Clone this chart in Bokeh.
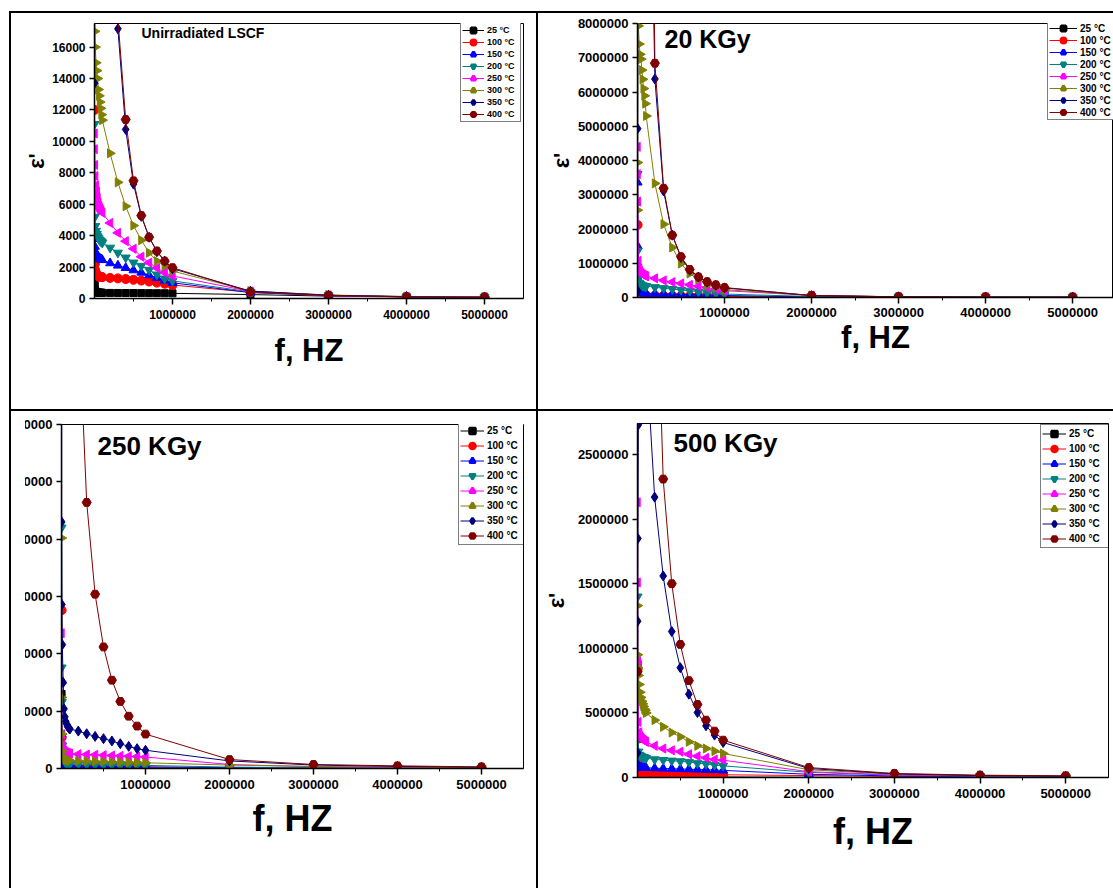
import math
from bokeh.plotting import figure
from bokeh.models import (FixedTicker, BasicTickFormatter, Label, Legend, LegendItem,
                          Spacer, ColumnDataSource, Range1d)
from bokeh.layouts import row, column
from bokeh.embed import file_html
from bokeh.resources import INLINE

# ---------------- data ----------------
FREQ_HZ = [1e3, 2e3, 5e3, 1e4, 2e4, 3e4, 4e4, 5e4, 6e4, 7e4, 8e4, 9e4,
           1e5, 2e5, 3e5, 4e5, 5e5, 6e5, 7e5, 8e5, 9e5, 1e6, 2e6, 3e6, 4e6, 5e6]
TEMPS = ["25 °C", "100 °C", "150 °C", "200 °C", "250 °C", "300 °C", "350 °C", "400 °C"]
X_TICKS = [1e6, 2e6, 3e6, 4e6, 5e6]
X_MINOR = [5e5, 1.5e6, 2.5e6, 3.5e6, 4.5e6]

# Unirradiated LSCF
UNIRR_25 = [1100, 800, 600, 480, 420, 400, 390, 380, 375, 370, 366, 362, 360, 355, 352, 350, 348, 345, 342, 340, 336, 330, 250, 150, 100, 80]
UNIRR_100 = [12000, 4000, 2200, 1800, 1600, 1500, 1450, 1420, 1400, 1390, 1380, 1370, 1360, 1310, 1280, 1240, 1190, 1140, 1080, 1010, 940, 860, 390, 180, 110, 80]
UNIRR_150 = [4500, 3800, 3300, 3000, 2800, 2700, 2650, 2600, 2570, 2540, 2510, 2480, 2450, 2250, 2100, 1950, 1800, 1650, 1480, 1320, 1150, 1000, 380, 190, 110, 80]
UNIRR_200 = [11100, 6500, 5200, 4600, 4300, 4100, 3950, 3850, 3750, 3700, 3650, 3600, 3550, 3230, 2910, 2600, 2280, 2070, 1820, 1520, 1270, 1120, 420, 200, 120, 90]
UNIRR_250 = [10500, 9500, 8500, 7800, 7200, 6800, 6400, 6100, 5900, 5750, 5650, 5550, 5450, 4810, 4180, 3650, 3165, 2660, 2280, 1940, 1650, 1435, 450, 200, 120, 90]
UNIRR_300 = [30000, 22000, 17000, 16000, 15000, 14500, 14000, 13300, 12900, 12500, 12100, 11700, 11350, 9240, 7390, 5870, 4640, 3710, 2910, 2380, 2070, 1750, 470, 220, 130, 90]
UNIRR_350 = [13700, 80000, 75000, 70000, 66000, 63000, 60000, 58000, 56000, 54000, 52000, 51000, 50000, 26000, 17160, 10760, 7280, 5230, 3900, 2980, 2380, 1900, 470, 210, 110, 80]
UNIRR_400 = [90000, 85000, 80000, 76000, 72000, 69000, 66000, 64000, 62000, 61000, 60500, 60000, 60000, 30000, 17800, 11390, 7490, 5280, 3900, 3020, 2380, 1960, 420, 200, 100, 70]
UNIRR_YTICKS = [0, 2000, 4000, 6000, 8000, 10000, 12000, 14000, 16000]

# 20 KGy
K20_25 = [5e5, 2e5, 1e5, 6e4, 4.5e4, 4e4, 3.6e4, 3.4e4, 3.2e4, 3e4, 2.9e4, 2.8e4, 2.7e4, 2.6e4, 2.5e4, 2.4e4, 2.3e4, 2.2e4, 2.1e4, 2e4, 1.9e4, 1.8e4, 1e4, 6e3, 4e3, 3e3]
K20_100 = [2.12e6, 8e5, 3e5, 1.5e5, 1e5, 8.5e4, 7.8e4, 7.2e4, 6.8e4, 6.5e4, 6.3e4, 6.1e4, 6e4, 5.6e4, 5.2e4, 4.8e4, 4.4e4, 4e4, 3.7e4, 3.4e4, 3.1e4, 2.8e4, 1.4e4, 8e3, 5e3, 4e3]
K20_150 = [3.36e6, 1.5e6, 8e5, 4e5, 2.5e5, 1.9e5, 1.6e5, 1.45e5, 1.35e5, 1.28e5, 1.24e5, 1.2e5, 1.18e5, 1.1e5, 1.02e5, 9.5e4, 8.8e4, 8.2e4, 7.6e4, 7e4, 6.4e4, 5.8e4, 2e4, 1e4, 6e3, 5e3]
K20_200 = [3.6e6, 1.36e6, 8e5, 5.5e5, 4.3e5, 3.9e5, 3.7e5, 3.55e5, 3.45e5, 3.4e5, 3.35e5, 3.32e5, 3.3e5, 3e5, 2.7e5, 2.45e5, 2.2e5, 1.95e5, 1.7e5, 1.45e5, 1.2e5, 1e5, 3e4, 1.4e4, 8e3, 6e3]
K20_250 = [4.4e6, 3.6e6, 2.8e6, 1.07e6, 8.5e5, 7.7e5, 7.2e5, 6.9e5, 6.7e5, 6.5e5, 6.4e5, 6.3e5, 6.2e5, 5.6e5, 5e5, 4.5e5, 4.1e5, 3.7e5, 3.3e5, 2.9e5, 2.5e5, 2e5, 6e4, 2e4, 1e4, 8e3]
K20_300 = [2.55e6, 3.94e6, 8.5e6, 7.93e6, 7.4e6, 7.1e6, 6.96e6, 6.64e6, 6.37e6, 6.1e6, 5.89e6, 5.66e6, 5.3e6, 3.33e6, 2.14e6, 1.46e6, 9.9e5, 7e5, 5.3e5, 3.7e5, 2.9e5, 2.3e5, 6e4, 2e4, 1.2e4, 9e3]
K20_350 = [2e5, 4.93e6, 1.2e7, 1.4e7, 1.5e7, 1.6e7, 1.7e7, 1.75e7, 1.8e7, 1.85e7, 1.9e7, 1.95e7, 2e7, 6.38e6, 3.11e6, 1.82e6, 1.17e6, 8e5, 6e5, 4.5e5, 3.6e5, 2.8e5, 5.5e4, 2e4, 1.2e4, 9e3]
K20_400 = [6e7, 5.5e7, 5e7, 4.8e7, 4.6e7, 4.4e7, 4.2e7, 4e7, 3.8e7, 3.6e7, 3.4e7, 3.2e7, 3e7, 6.84e6, 3.19e6, 1.82e6, 1.19e6, 8.2e5, 6e5, 4.6e5, 3.7e5, 2.9e5, 5.8e4, 2e4, 1e4, 8e3]
K20_YTICKS = [0, 1e6, 2e6, 3e6, 4e6, 5e6, 6e6, 7e6, 8e6]

# 250 KGy
K250_25 = [6.5e5, 2e5, 8e4, 3e4, 1.5e4, 1e4, 8e3, 7e3, 6e3, 6e3, 5.5e3, 5e3, 5e3, 4.8e3, 4.6e3, 4.4e3, 4.2e3, 4e3, 3.8e3, 3.6e3, 3.4e3, 3.2e3, 2e3, 1.5e3, 1e3, 8e2]
K250_100 = [1.38e6, 2.7e5, 1e5, 4e4, 2.2e4, 1.6e4, 1.4e4, 1.3e4, 1.2e4, 1.2e4, 1.1e4, 1.1e4, 1.1e4, 1.05e4, 1e4, 9.5e3, 9e3, 8.5e3, 8e3, 7.5e3, 7e3, 6.5e3, 4e3, 3e3, 2e3, 1.5e3]
K250_150 = [7.6e5, 3e5, 1e5, 5e4, 3.5e4, 3e4, 2.8e4, 2.7e4, 2.6e4, 2.5e4, 2.5e4, 2.4e4, 2.4e4, 2.3e4, 2.2e4, 2.1e4, 2e4, 1.9e4, 1.8e4, 1.7e4, 1.6e4, 1.5e4, 8e3, 5e3, 3e3, 2e3]
K250_200 = [2.1e6, 8.8e5, 5.8e5, 2e5, 1.2e5, 8e4, 6e4, 5e4, 4.6e4, 4.4e4, 4.2e4, 4.1e4, 4e4, 3.8e4, 3.6e4, 3.4e4, 3.2e4, 3.1e4, 3e4, 2.9e4, 2.8e4, 2.7e4, 1.2e4, 7e3, 4e3, 3e3]
K250_250 = [1.18e6, 5e5, 3e5, 2e5, 1.7e5, 1.55e5, 1.47e5, 1.42e5, 1.38e5, 1.35e5, 1.33e5, 1.31e5, 1.3e5, 1.25e5, 1.22e5, 1.19e5, 1.16e5, 1.13e5, 1.1e5, 1.07e5, 1.04e5, 1e5, 3.5e4, 1.5e4, 1e4, 7e3]
K250_300 = [2.01e6, 6.2e5, 3e5, 1.5e5, 1e5, 9e4, 8.5e4, 8e4, 7.7e4, 7.4e4, 7.2e4, 7e4, 6.8e4, 6.6e4, 6.4e4, 6.2e4, 6e4, 5.8e4, 5.6e4, 5.4e4, 5.2e4, 5e4, 3e4, 1.8e4, 1.2e4, 8e3]
K250_350 = [8e6, 2.15e6, 1.43e6, 1.08e6, 7.5e5, 5.2e5, 4.5e5, 4.1e5, 3.9e5, 3.7e5, 3.6e5, 3.5e5, 3.45e5, 3.26e5, 3.03e5, 2.8e5, 2.6e5, 2.4e5, 2.16e5, 1.93e5, 1.73e5, 1.59e5, 6.6e4, 3e4, 1.8e4, 1.2e4]
K250_400 = [4e7, 3.5e7, 3e7, 2.6e7, 2.2e7, 1.9e7, 1.6e7, 1.4e7, 1.2e7, 1.05e7, 9.5e6, 8.7e6, 8e6, 4.02e6, 2.32e6, 1.52e6, 1.06e6, 7.7e5, 5.85e5, 4.56e5, 3.7e5, 3e5, 7.8e4, 3.5e4, 2.3e4, 1.4e4]
K250_YTICKS = [0, 5e5, 1e6, 1.5e6, 2e6, 2.5e6, 3e6]

# 500 KGy
K500_25 = [8.8e5, 3e5, 1e5, 4e4, 2e4, 1.2e4, 1e4, 9e3, 8e3, 7.5e3, 7e3, 6.5e3, 6e3, 5.8e3, 5.6e3, 5.4e3, 5.2e3, 5e3, 4.8e3, 4.6e3, 4.4e3, 4.2e3, 2e3, 1.5e3, 1e3, 8e2]
K500_100 = [8.4e5, 3e5, 1e5, 5e4, 3.5e4, 3.1e4, 3e4, 3e4, 3e4, 3e4, 3e4, 3e4, 3e4, 2.9e4, 2.8e4, 2.7e4, 2.6e4, 2.5e4, 2.4e4, 2.3e4, 2.2e4, 2.1e4, 1.5e4, 8e3, 5e3, 4e3]
K500_150 = [6e5, 2e5, 1e5, 8e4, 7.8e4, 7.6e4, 7.5e4, 7.5e4, 7.5e4, 7.5e4, 7.5e4, 7.5e4, 7.5e4, 7.2e4, 7e4, 6.8e4, 6.6e4, 6.4e4, 6.2e4, 6e4, 5.8e4, 5.5e4, 2.5e4, 1.2e4, 7e3, 5e3]
K500_200 = [1.4e6, 6e5, 3e5, 2e5, 1.75e5, 1.7e5, 1.65e5, 1.6e5, 1.58e5, 1.56e5, 1.54e5, 1.52e5, 1.5e5, 1.4e5, 1.35e5, 1.3e5, 1.25e5, 1.2e5, 1.1e5, 1.05e5, 9.7e4, 9e4, 4e4, 1.8e4, 1e4, 7e3]
K500_250 = [2.13e6, 1.51e6, 9e5, 4.3e5, 3.5e5, 3.2e5, 3.1e5, 3e5, 2.95e5, 2.9e5, 2.85e5, 2.8e5, 2.75e5, 2.45e5, 2.24e5, 2.1e5, 2e5, 1.8e5, 1.65e5, 1.52e5, 1.4e5, 1.34e5, 4.5e4, 2e4, 1.2e4, 9e3]
K500_300 = [1.33e6, 9.5e5, 8.5e5, 7.9e5, 7.2e5, 6.6e5, 6.2e5, 5.9e5, 5.7e5, 5.5e5, 5.3e5, 5.2e5, 5e5, 4.44e5, 3.92e5, 3.48e5, 3.15e5, 2.76e5, 2.45e5, 2.24e5, 2.04e5, 1.86e5, 6e4, 2.5e4, 1.4e4, 1e4]
K500_350 = [1.9e5, 1.21e6, 1.85e6, 2.73e6, 3.4e6, 3.6e6, 3.6e6, 3.55e6, 3.5e6, 3.45e6, 3.4e6, 3.35e6, 3.3e6, 2.17e6, 1.56e6, 1.13e6, 8.5e5, 6.45e5, 5.03e5, 4e5, 3.28e5, 2.71e5, 7e4, 2.8e4, 1.5e4, 1e4]
K500_400 = [8.2e5, 2e7, 1.8e7, 1.6e7, 1.5e7, 1.4e7, 1.3e7, 1.2e7, 1.15e7, 1.1e7, 1.05e7, 1e7, 9e6, 4.46e6, 2.31e6, 1.5e6, 1.03e6, 7.5e5, 5.65e5, 4.44e5, 3.59e5, 2.89e5, 7.7e4, 3.1e4, 1.8e4, 1.3e4]
K500_YTICKS = [0, 5e5, 1e6, 1.5e6, 2e6, 2.5e6]

# ---------------- style ----------------
FONT = "Liberation Sans"
COLORS = ["#000000", "#FF0000", "#0000FF", "#008080", "#FF00FF", "#808000", "#000080", "#800000"]
MARKERS = ["square", "circle", "triangle", "inverted_triangle", "triangle", "triangle", "diamond", "hex"]
ANGLES = [0, 0, 0, 0, math.pi / 2, -math.pi / 2, 0, 0]
SIZES = [7, 9, 9, 9, 9, 9, 10, 9]


def make_panel(series, title, y_end, y_ticks, cfg):
    p = figure(width=cfg["w"], height=cfg["h"],
               x_range=Range1d(0, cfg["x_end"]), y_range=Range1d(0, y_end),
               output_backend="svg", toolbar_location=None,
               min_border_left=cfg["mbl"], min_border_right=cfg["mbr"],
               min_border_top=cfg["mbt"], min_border_bottom=cfg["mbb"])
    p.frame_align = False
    p.grid.visible = False
    p.outline_line_color = "black"
    p.outline_line_width = 1
    p.background_fill_color = "white"
    p.border_fill_color = "white"

    xa = p.xaxis[0]
    ya = p.yaxis[0]
    xa.ticker = FixedTicker(ticks=X_TICKS, minor_ticks=X_MINOR)
    ya.ticker = FixedTicker(ticks=y_ticks, minor_ticks=[])
    xa.formatter = BasicTickFormatter(use_scientific=False)
    ya.formatter = BasicTickFormatter(use_scientific=False)
    for ax in (xa, ya):
        ax.major_label_text_font = FONT
        ax.major_label_text_font_style = "bold"
        ax.major_label_text_font_size = cfg["tick_fs"]
        ax.major_label_text_color = "black"
        ax.axis_line_color = "black"
        ax.axis_line_width = 1.5
        ax.major_tick_line_color = "black"
        ax.major_tick_line_width = 1.5
        ax.major_tick_in = 0
        ax.minor_tick_in = 0
        ax.axis_label_text_font = FONT
        ax.axis_label_text_font_style = "bold"
        ax.axis_label_text_color = "black"
    xa.major_tick_out = 6
    xa.minor_tick_out = 3
    xa.minor_tick_line_color = "black"
    ya.major_tick_out = 5
    ya.minor_tick_line_color = None
    xa.major_label_standoff = cfg["xls"]
    ya.major_label_standoff = 4
    xa.axis_label = "f, HZ"
    xa.axis_label_text_font_size = cfg["xlab_fs"]
    xa.axis_label_standoff = cfg["xlab_so"]
    if cfg.get("ylab", True):
        ya.axis_label = "ε'"
        ya.axis_label_text_font_size = "22px"
        ya.axis_label_standoff = cfg["ylab_so"]

    items = []
    for i, (ys, lab) in enumerate(zip(series, TEMPS)):
        src = ColumnDataSource(dict(x=FREQ_HZ, y=ys))
        lr = p.line("x", "y", source=src, line_color=COLORS[i], line_width=1)
        p.scatter("x", "y", source=src, marker=MARKERS[i], angle=ANGLES[i],
                  size=SIZES[i], fill_color=COLORS[i], line_color=COLORS[i])
        # legend-only marker (thicker outline so it reads at legend size)
        key = p.scatter("x", "y", source=src, marker=MARKERS[i], size=SIZES[i],
                        fill_color=COLORS[i], line_color=COLORS[i],
                        line_width=cfg["leg_mlw"], visible=False)
        items.append(LegendItem(label=lab, renderers=[lr, key]))

    leg = Legend(items=items, location=cfg["leg_loc"],
                 label_text_font=FONT, label_text_font_style="bold",
                 label_text_font_size=cfg["leg_fs"], label_text_color="black",
                 glyph_height=cfg["leg_gh"], glyph_width=cfg["leg_gw"],
                 label_height=cfg["leg_gh"], label_width=cfg["leg_lw"],
                 spacing=0, padding=1, margin=0, label_standoff=3,
                 border_line_color="black", border_line_width=1.2,
                 background_fill_color="white", background_fill_alpha=1.0)
    p.add_layout(leg)

    p.add_layout(Label(x=cfg["tx"], y=cfg["ty"], x_units="screen", y_units="screen",
                       text=title, text_font=FONT, text_font_style="bold",
                       text_font_size=cfg["tfs"], text_baseline="middle",
                       text_align="left", text_color="black"))
    return p


TL = make_panel([UNIRR_25, UNIRR_100, UNIRR_150, UNIRR_200, UNIRR_250, UNIRR_300, UNIRR_350, UNIRR_400],
                "Unirradiated LSCF", 17500, UNIRR_YTICKS,
                dict(w=525, h=396, x_end=5.5e6, mbl=83, mbr=13, mbt=10, mbb=111,
                     tick_fs="12px", xls=5, xlab_fs="31px", xlab_so=11, ylab_so=0,
                     leg_loc=(366, 176), leg_fs="9px", leg_gh=12, leg_gw=22, leg_lw=32, leg_mlw=3,
                     tx=47, ty=265.5, tfs="14px"))

TR = make_panel([K20_25, K20_100, K20_150, K20_200, K20_250, K20_300, K20_350, K20_400],
                "20 KGy", 8e6, K20_YTICKS,
                dict(w=575, h=396, x_end=5.47e6, mbl=99, mbr=0, mbt=10, mbb=112,
                     tick_fs="13px", xls=4, xlab_fs="31px", xlab_so=0, ylab_so=1,
                     leg_loc=(410, 177), leg_fs="10px", leg_gh=12, leg_gw=28, leg_lw=50, leg_mlw=3,
                     tx=27, ty=258.5, tfs="25px"))

BL = make_panel([K250_25, K250_100, K250_150, K250_200, K250_250, K250_300, K250_350, K250_400],
                "250 KGy", 3e6, K250_YTICKS,
                dict(w=575, h=477, x_end=5.5e6, mbl=100, mbr=13, mbt=13, mbb=120,
                     tick_fs="13px", xls=5, xlab_fs="36px", xlab_so=6, ylab=False,
                     leg_loc=(397, 223), leg_fs="10px", leg_gh=15, leg_gw=24, leg_lw=35, leg_mlw=2.5,
                     tx=36, ty=323, tfs="26px"))
BL.styles = {"margin-left": "-50px", "clip-path": "inset(0px 0px 0px 64px)"}

BR = make_panel([K500_25, K500_100, K500_150, K500_200, K500_250, K500_300, K500_350, K500_400],
                "500 KGy", 2.74e6, K500_YTICKS,
                dict(w=575, h=477, x_end=5.5e6, mbl=99, mbr=5, mbt=12, mbb=111,
                     tick_fs="13px", xls=5, xlab_fs="36px", xlab_so=10, ylab_so=6,
                     leg_loc=(403, 229), leg_fs="10px", leg_gh=15, leg_gw=24, leg_lw=39, leg_mlw=2.5,
                     tx=36, ty=335, tfs="26px"))

BLACK = {"background-color": "black"}


def hline(w):
    return Spacer(width=w, height=2, styles=BLACK)


def vline(h):
    return Spacer(width=2, height=h, styles=BLACK)


root = column(
    Spacer(width=1113, height=11),
    row(Spacer(width=9, height=2), hline(1104)),
    row(Spacer(width=9, height=396), vline(396), TL, vline(396), TR),
    row(Spacer(width=9, height=2), hline(1104)),
    row(Spacer(width=9, height=477), vline(477), BL, vline(477), BR),
)

open("out.html", "w").write(file_html(root, INLINE))
